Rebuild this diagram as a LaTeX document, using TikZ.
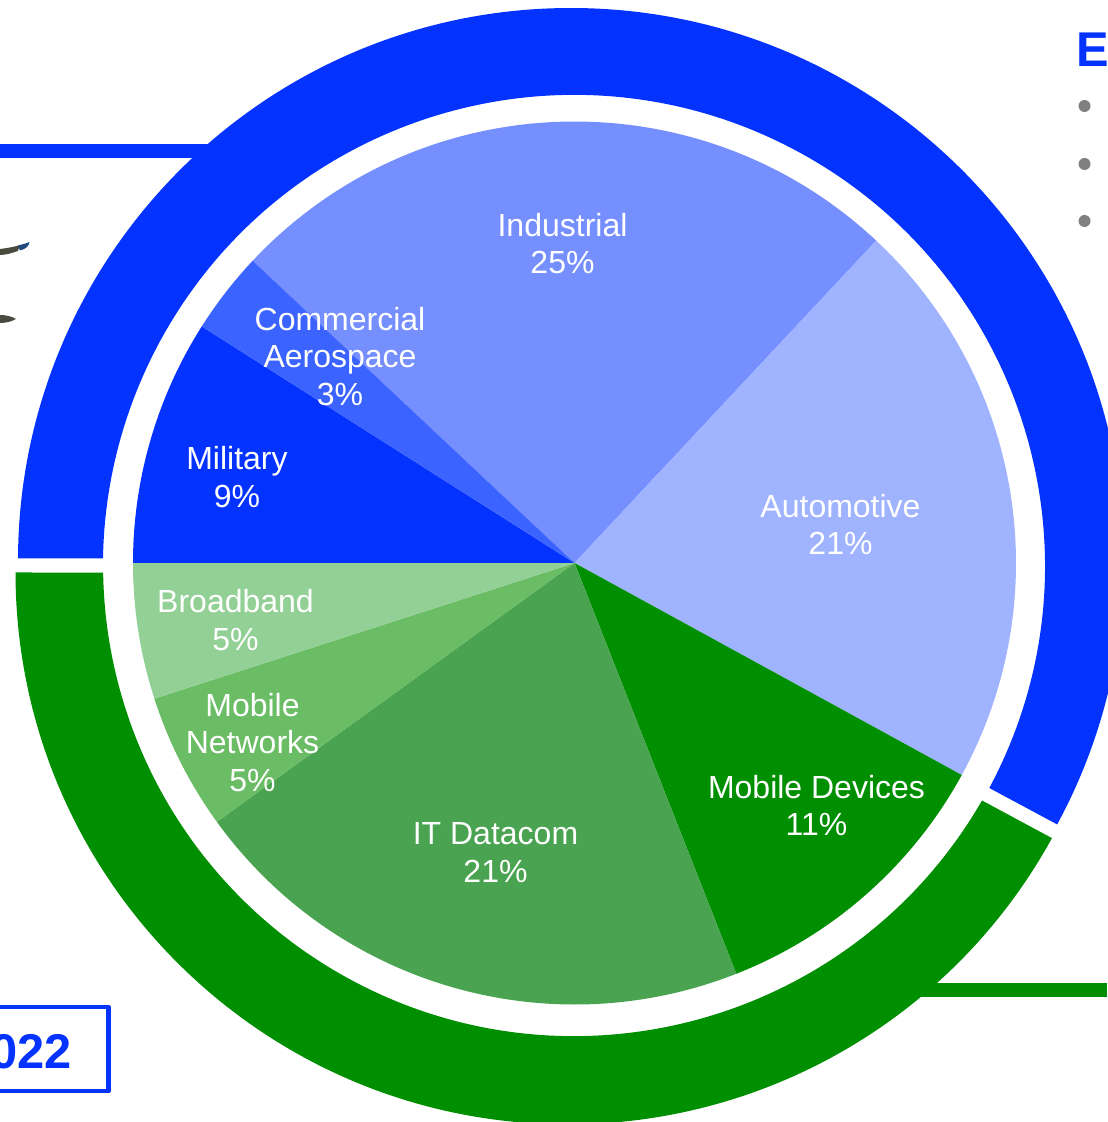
\documentclass[tikz,border=0pt]{standalone}
\usepackage{fontspec}
\setmainfont{Liberation Sans}
\definecolor{bluemain}{HTML}{0433FF}
\definecolor{greenmain}{HTML}{008F00}
\definecolor{sCommercial}{HTML}{3B63FF}
\definecolor{sIndustrial}{HTML}{768FFF}
\definecolor{sAuto}{HTML}{9FB3FF}
\definecolor{sBroad}{HTML}{93D096}
\definecolor{sNet}{HTML}{6ABD65}
\definecolor{sIT}{HTML}{4AA350}
\definecolor{bulletgrey}{HTML}{808080}
\definecolor{fragdark}{HTML}{4A4A3E}
\definecolor{fragtip}{HTML}{1F4A7A}
\tikzset{
  slicelabel/.style={text=white,align=center,inner sep=0pt,font=\fontsize{16}{18.7}\selectfont},
  bigblue/.style={text=bluemain,inner sep=0pt,font=\fontsize{24.4}{28}\selectfont\bfseries},
  bulletdot/.style={fill=bulletgrey,draw=none}
}
\newcommand{\pieslice}[3]{\fill[#3] (574.5,559) -- ++(#1:441.5) arc[start angle=#1,end angle=#2,radius=441.5] -- cycle;}
\begin{document}
\begin{tikzpicture}[x=0.5pt,y=0.5pt]
\useasboundingbox (0,0) rectangle (1107,1122);
\fill[white] (0,0) rectangle (1107,1122);
% connector bars
\fill[bluemain] (0,964) rectangle (260,978);
\fill[greenmain] (880,125) rectangle (1107,139);
% image fragments
\fill[fragdark] (0,873) .. controls (8,874) and (14,875) .. (20,877) -- (18,871) .. controls (12,869) and (6,867) .. (0,867) -- cycle;
\fill[fragtip] (18,876.5) .. controls (22,877.5) and (26,878.5) .. (29.5,880) .. controls (29,876) and (26,873) .. (20,871.5) -- cycle;
\fill[fragdark] (0,807) .. controls (6,807) and (12,805.5) .. (16,803) .. controls (12,800.5) and (6,799) .. (0,799) -- cycle;
% outer rings
\fill[bluemain] (18,563.5) arc[start angle=179.74,end angle=-28.45,radius=553]
  -- (989.3,334) arc[start angle=-28.13,end angle=179.09,radius=471] -- cycle;
\fill[greenmain] (15.5,549.5) arc[start angle=180.05,end angle=331.2,radius=552.4]
  -- (982,321.5) arc[start angle=330.01,end angle=180.91,radius=471] -- cycle;
% pie
\pieslice{46.9}{136.8}{sIndustrial}
\pieslice{-28.7}{46.9}{sAuto}
\pieslice{-68.5}{-28.7}{greenmain}
\pieslice{215.9}{291.5}{sIT}
\pieslice{197.9}{215.9}{sNet}
\pieslice{180}{197.9}{sBroad}
\pieslice{147.6}{180}{bluemain}
\pieslice{136.8}{147.6}{sCommercial}
% labels
\node[slicelabel] (industrial) at (562.5,878.5) {Industrial\\25\%};
\node[slicelabel] (automotive) at (840.5,597.5) {Automotive\\21\%};
\node[slicelabel] (devices) at (816.5,316.5) {Mobile Devices\\11\%};
\node[slicelabel] (datacom) at (495.5,269.5) {IT Datacom\\21\%};
\node[slicelabel] (networks) at (252.5,379.5) {Mobile\\Networks\\5\%};
\node[slicelabel] (broadband) at (235.5,502) {Broadband\\5\%};
\node[slicelabel] (military) at (237,645) {Military\\9\%};
\node[slicelabel] (aerospace) at (340,765.5) {Commercial\\Aerospace\\3\%};
% text cropped by the right edge
\node[bigblue,anchor=base west] (headE) at (1076.5,1055) {E};
\fill[bulletdot] (1084.5,1016) circle (6);
\fill[bulletdot] (1084.5,958) circle (6);
\fill[bulletdot] (1084.5,901) circle (6);
% year box
\draw[bluemain,line width=2.25pt,line join=round] (-10,115) -- (108.5,115) -- (108.5,31) -- (-10,31);
\node[bigblue,anchor=base east] (year) at (72,53) {022};
\end{tikzpicture}
\end{document}
